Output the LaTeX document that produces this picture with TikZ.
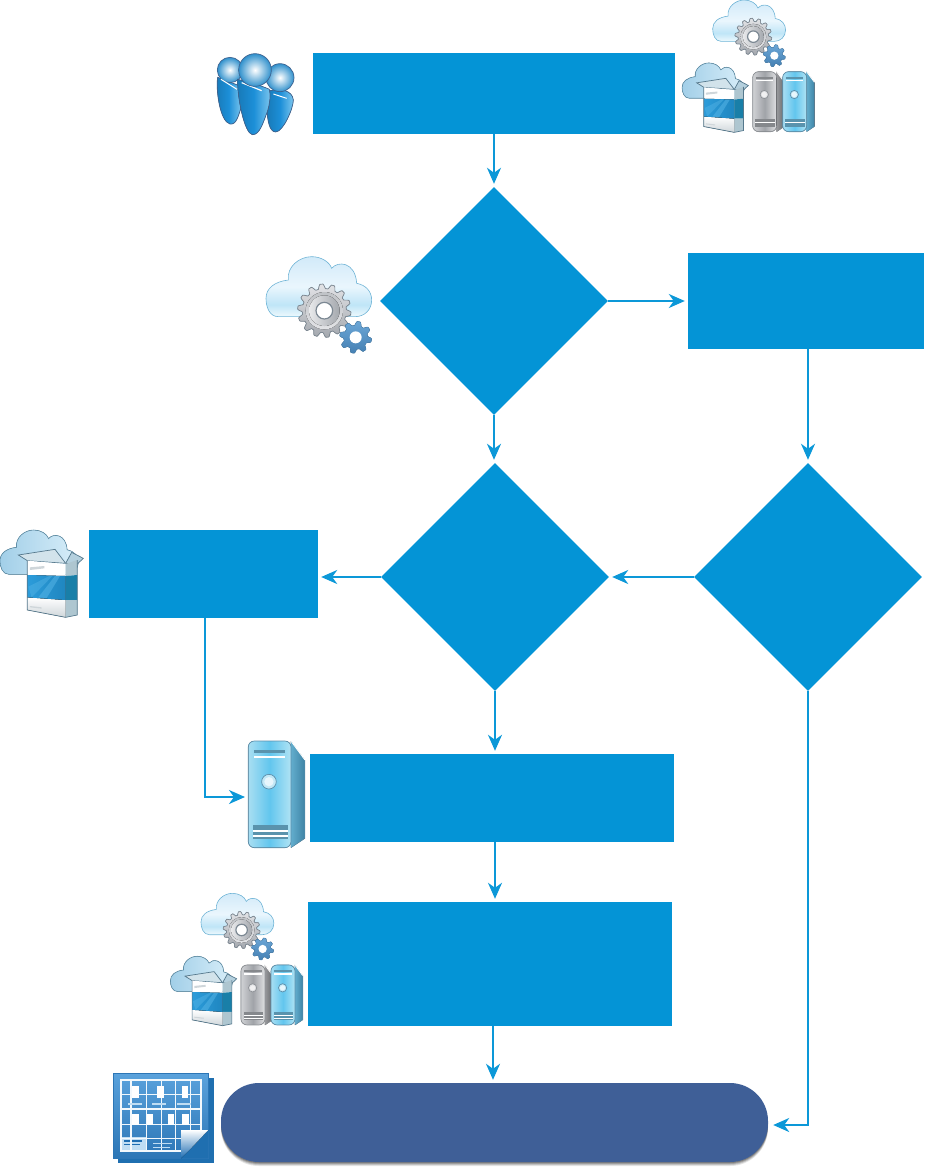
\documentclass[tikz,border=0pt]{standalone}
\usetikzlibrary{shapes.geometric,arrows.meta}
\definecolor{boxblue}{HTML}{0494D6}
\definecolor{pillblue}{HTML}{3F5F97}
\definecolor{linkblue}{HTML}{0C98D8}
\definecolor{cA}{HTML}{EEF9FD}
\definecolor{cB}{HTML}{BFE5F7}
\definecolor{cC}{HTML}{EAF6FD}
\definecolor{cD}{HTML}{D2EAF9}
\pgfdeclareverticalshading{cloudsh}{100bp}{color(0bp)=(cA); color(25bp)=(cA); color(35bp)=(cB); color(50bp)=(cC); color(75bp)=(cD); color(100bp)=(cD)}
\tikzset{
  flowbox/.style={rectangle,fill=boxblue,inner sep=0pt},
  flowdiamond/.style={diamond,fill=boxblue,inner sep=0pt,minimum width=228pt,minimum height=228pt},
  conn/.style={draw=linkblue,line width=2pt,shorten >=3pt,-{Stealth[length=16pt,width=14pt,inset=5pt]}},
  pillnode/.style={rectangle,rounded corners=38pt,fill=pillblue,inner sep=0pt,minimum width=547pt,minimum height=79pt}
}
% cloud outline, 317 x 180 units
\newcommand\CloudPath{(37,180) .. controls (10,180) and (0,150) .. (0,125) .. controls (0,95) and (25,75) .. (67,70) .. controls (62,30) and (100,0) .. (137,0) .. controls (165,0) and (190,15) .. (197,35) .. controls (215,12) and (268,15) .. (272,80) .. controls (300,85) and (317,105) .. (317,130) .. controls (317,160) and (295,180) .. (267,180) -- cycle}
\definecolor{cloudedge}{HTML}{6FB4D6}
\definecolor{cloudedgeB}{HTML}{5F8FA8}
\newcommand\CloudLight[3]{\begin{scope}[shift={(#1,#2)},scale=#3]
  \shade[shading=cloudsh] \CloudPath;
  \draw[draw=cloudedge,line width=.6pt] \CloudPath;
\end{scope}}
\definecolor{cloud1}{HTML}{A2CFE8}
\definecolor{cloud2}{HTML}{D8EEF9}
\definecolor{gearedge}{HTML}{7C8893}
\definecolor{gearhi}{HTML}{E2E3E6}
\definecolor{gearlo}{HTML}{A4A8AE}
\definecolor{gearface}{HTML}{E8E9EB}
\newcommand\GearLarge[3]{\begin{scope}[shift={(#1,#2)},scale=#3]
  \filldraw[draw=gearedge,line width=.7pt,top color=gearhi,bottom color=gearlo]
    plot[domain=0:360,samples=225] ({min(80,max(66,73+11*sin(14*\x)))*cos(\x)},{min(80,max(66,73+11*sin(14*\x)))*sin(\x)}) -- cycle;
  \fill[top color=gearlo!70!white,bottom color=gearhi] (0,0) circle (56);
  \fill[left color=gearface,right color=gearlo] (0,0) circle (46);
  \draw[draw=gearedge,line width=1.2pt,fill=white] (0,0) circle (25);
\end{scope}}
\definecolor{sgearedge}{HTML}{4A85B5}
\definecolor{sgear1}{HTML}{6BA6D6}
\definecolor{sgear2}{HTML}{4580B3}
\newcommand\GearSmall[3]{\begin{scope}[shift={(#1,#2)},scale=#3]
  \filldraw[draw=sgearedge,line width=.4pt,top color=sgear1,bottom color=sgear2]
    plot[domain=0:360,samples=129] ({min(48,max(36,42+10*sin(8*\x)))*cos(\x)},{min(48,max(36,42+10*sin(8*\x)))*sin(\x)}) -- cycle;
  \fill[white] (0,0) circle (18);
\end{scope}}
\definecolor{pkgedge}{HTML}{55788C}
\definecolor{flap}{HTML}{B4D0DE}
\definecolor{pkgbot}{HTML}{CFD6DA}
\definecolor{pkgb1}{HTML}{2C9CDA}
\definecolor{pkgb2}{HTML}{1F86C0}
\definecolor{pkgb3}{HTML}{55B4E6}
\definecolor{pkgside}{HTML}{AEC6D0}
\definecolor{pkgsideB}{HTML}{197FA8}
% package, coordinates in units of 1/3 px
\newcommand\PkgBody{%
  \begin{scope}[shift={(0,30)},scale=.74]
    \filldraw[draw=cloudedgeB,line width=.6pt,left color=cloud1,right color=cloud2] \CloudPath;
  \end{scope}
  \filldraw[draw=pkgedge,line width=.7pt,fill=flap] (197,130) -- (215,97) -- (250,115) -- (232,132) -- cycle;
  \filldraw[draw=pkgedge,line width=.7pt,fill=flap!60!white] (55,105) -- (165,88) -- (197,130) -- (82,122) -- cycle;
  \fill[white] (82,122) -- (197,132) -- (197,168) -- (82,165) -- cycle;
  \fill[top color=white,bottom color=pkgbot] (82,232) -- (197,240) -- (197,292) -- (82,270) -- cycle;
  \fill[left color=pkgb1,right color=pkgb2] (82,165) -- (197,168) -- (197,240) -- (82,232) -- cycle;
  \fill[pkgb3,opacity=.55] (115,232) -- (165,168) -- (180,168) -- (140,234) -- cycle;
  \fill[pkgb3,opacity=.45] (85,200) -- (150,167) -- (158,167) -- (95,232) -- cycle;
  \fill[pkgside] (197,132) -- (232,120) -- (232,165) -- (197,168) -- cycle;
  \fill[pkgsideB] (197,168) -- (232,165) -- (232,240) -- (197,240) -- cycle;
  \fill[pkgside] (197,240) -- (232,240) -- (232,285) -- (197,292) -- cycle;
  \fill[pkgbot] (90,142) -- (133,138) -- (133,145) -- (90,150) -- cycle;
  \fill[pkgbot] (90,258) -- (125,262) -- (125,266) -- (90,262) -- cycle;
  \draw[draw=pkgedge,line width=.7pt] (82,122) -- (82,270) -- (197,292) -- (232,285) -- (232,120);
}
% server: origin at top-left of front face; 170 x 320 units
\newcommand\SrvBody[7]{%
  \fill[left color=#6,right color=#7] (128,0) -- (170,57) -- (170,292) -- (128,320) -- cycle;
  \filldraw[draw=#1,line width=.7pt,left color=#2,right color=#4,middle color=#3,rounded corners=6] (0,0) rectangle (128,320);
  \draw[white,line width=.9pt] (128,0) -- (170,57);
  \draw[draw=#1,line width=.5pt] (170,57) -- (170,292) -- (128,320);
  \fill[#5] (17,27) rectangle (110,37);
  \fill[white] (17,45) rectangle (110,51);
  \filldraw[draw=#1,line width=.7pt,fill=#2!70!white] (62,122) circle (22);
  \fill[white!85!#3] (62,122) circle (14);
  \fill[#5] (14,252) rectangle (118,267);
  \fill[white] (14,267) rectangle (118,272);
  \fill[#5] (14,272) rectangle (118,282);
  \fill[white] (14,282) rectangle (118,287);
  \fill[#5] (14,287) rectangle (118,294);
}
\definecolor{sb0}{HTML}{5D8FAB}
\definecolor{sb1}{HTML}{A8DEF2}
\definecolor{sb2}{HTML}{62C6EE}
\definecolor{sb3}{HTML}{B0E3F4}
\definecolor{sb4}{HTML}{5A93AD}
\definecolor{sb5}{HTML}{62ADCD}
\definecolor{sb6}{HTML}{3E83A5}
\definecolor{sg0}{HTML}{8E9297}
\definecolor{sg1}{HTML}{D0D2D5}
\definecolor{sg2}{HTML}{A0A3A8}
\definecolor{sg3}{HTML}{E0E1E3}
\definecolor{sg4}{HTML}{85888C}
\definecolor{sg5}{HTML}{98999C}
\definecolor{sg6}{HTML}{65676B}
\newcommand\SrvBlue{\SrvBody{sb0}{sb1}{sb2}{sb3}{sb4}{sb5}{sb6}}
\newcommand\SrvGrey{\SrvBody{sg0}{sg1}{sg2}{sg3}{sg4}{sg5}{sg6}}
% the group of four
\newcommand\Suite[2]{\begin{scope}[shift={(#1,#2)},scale=1/3]
  \CloudLight{128}{0}{.69}
  \GearLarge{250}{110}{.69}
  \GearSmall{313}{167}{.69}
  \begin{scope}[shift={(36.3,165)},scale=.795]\PkgBody\end{scope}
  \begin{scope}[shift={(248,215)},scale=.5625]\SrvGrey\end{scope}
  \begin{scope}[shift={(338,215)},scale=.5625]\SrvBlue\end{scope}
\end{scope}}
\definecolor{pedge}{HTML}{3F6390}
\definecolor{pbody1}{HTML}{1C8FD8}
\definecolor{pbody2}{HTML}{7CC6EE}
\definecolor{phead}{HTML}{2F90CC}
\newcommand\Person[1]{\filldraw[draw=pedge,line width=.7pt,left color=pbody1!85!black,right color=pbody2,middle color=pbody1] #1;}
\definecolor{cal1}{HTML}{5AA2DC}
\definecolor{cal2}{HTML}{2C76B6}
\definecolor{calback}{HTML}{1F6FB0}
\definecolor{calpale}{HTML}{BFDDF3}
\definecolor{calbar}{HTML}{1D6DB2}
\begin{document}
\begin{tikzpicture}[x=1pt,y=-1pt]
\useasboundingbox (0,0) rectangle (924,1175);
% ---- flow shapes
\node[flowbox,minimum width=362pt,minimum height=81pt] (A) at (494,93.5) {};
\node[flowdiamond] (D1) at (494,301) {};
\node[flowbox,minimum width=236pt,minimum height=96pt] (R) at (806,301) {};
\node[flowdiamond] (D2) at (495,577) {};
\node[flowdiamond] (D3) at (808,577) {};
\node[flowbox,minimum width=229pt,minimum height=88pt] (L) at (203.5,574) {};
\node[flowbox,minimum width=364pt,minimum height=88pt] (M) at (492,798) {};
\node[flowbox,minimum width=364pt,minimum height=124pt] (B) at (490,964) {};
% pill with soft shadow
\foreach \o/\g in {4/.10,3/.14,2/.18,1/.22}{
  \fill[black,opacity=\g,rounded corners=38pt] (221,1085+\o) rectangle (768,1162+\o);
}
\node[pillnode] (P) at (494.5,1122.5) {};
% ---- connectors
\coordinate (srvL) at (248,797);
\draw[conn] (A.south) -- (D1.north);
\draw[conn] (D1.east) -- (R.west);
\draw[conn] (D1.south) -- (D1.south |- D2.north);
\draw[conn] (R.south -| D3.north) -- (D3.north);
\draw[conn] (D3.west) -- (D2.east);
\draw[conn] (D2.west) -- (D2.west -| L.east);
\draw[conn] (D2.south) -- (D2.south |- M.north);
\draw[conn] (D2.south |- M.south) -- (D2.south |- B.north);
\draw[conn] ([xshift=3pt]B.south) -- ([xshift=3pt]B.south |- P.north);
\draw[conn] ([xshift=1.5pt]L.south) |- (srvL);
\draw[conn,shorten >=5pt] (D3.south) |- ([yshift=-2.5pt]P.east);
% ---- icons
% people
\begin{scope}[shift={(205,40)},scale=1/3]
  \Person{(38,112) .. controls (32,150) and (45,245) .. (75,252) .. controls (95,255) and (100,225) .. (108,205) -- (110,140) -- cycle}
  \shade[inner color=white,outer color=phead,draw=pedge,line width=.7pt] (75,90) circle (38);
  \Person{(195,152) .. controls (225,145) and (262,150) .. (265,180) .. controls (265,205) and (235,275) .. (212,276) .. controls (192,275) and (188,240) .. (185,205) -- cycle}
  \shade[inner color=white,outer color=phead,draw=pedge,line width=.7pt] (225,113) circle (42);
  \Person{(98,118) .. controls (96,170) and (118,280) .. (142,284) .. controls (165,285) and (175,245) .. (187,215) .. controls (195,190) and (197,165) .. (193,148) .. controls (165,135) and (125,125) .. (98,118) -- cycle}
  \draw[white,line width=1.2pt] (110,128) -- (170,152);
  \draw[white,line width=1pt] (48,118) -- (96,148);
  \draw[white,line width=1pt] (205,162) -- (245,175);
  \shade[inner color=white,outer color=phead,draw=pedge,line width=.7pt] (150,90) circle (49);
\end{scope}
% top right group
\Suite{670}{0}
% cloud + gears
\begin{scope}[shift={(255,245)},scale=1/3]
  \CloudLight{33}{35}{1}
  \GearLarge{208}{197}{1}
  \GearSmall{302}{277}{1}
\end{scope}
% package
\begin{scope}[shift={(0,520)},scale=1/3]\PkgBody\end{scope}
% server
\begin{scope}[shift={(248.3,741)},scale=1/3]\SrvBlue\end{scope}
% lower group
\Suite{158.3}{893.3}
% calendar
\begin{scope}[shift={(100,1060)},scale=1/3]
  \fill[calback] (55,55) rectangle (342,310);
  \fill[top color=cal1,bottom color=cal2] (40,40) rectangle (325,295);
  \draw[cal2,line width=.6pt] (40,40) rectangle (325,295);
  \fill[calpale] (66,230) rectangle (140,272);
  \fill[calbar] (72,240) rectangle (126,245);
  \fill[calbar] (72,252) rectangle (120,255);
  \foreach \xa in {93,140,185,227,272} \draw[white!92!cal1,line width=1.5pt] (\xa,60) -- (\xa,273);
  \foreach \ya in {103,147,193,235} \draw[white!92!cal1,line width=1.5pt] (63,\ya) -- (303,\ya);
  \draw[white!92!cal1,line width=1.7pt] (63,60) rectangle (303,273);
  \foreach \xa/\xb/\ya/\yb in {96/117/78/115,171/192/78/115,246/265/78/115,96/117/162/195,140/160/162/195,204/223/162/195,246/268/162/195} \fill[white] (\xa,\ya) rectangle (\xb,\yb);
  \foreach \xa/\xb in {84/126,156/198,231/273} \fill[calpale] (\xa,129) rectangle (\xb,134);
  \fill[calpale] (160,249) rectangle (216,252);
  \fill[calpale] (160,261) rectangle (210,264);
  \fill[calback] (243,295) -- (325,295) -- (325,210) -- cycle;
  \fill[top color=white,bottom color=calbar] (243,210) -- (325,210) .. controls (295,240) and (270,270) .. (243,295) -- cycle;
\end{scope}
\end{tikzpicture}
\end{document}
